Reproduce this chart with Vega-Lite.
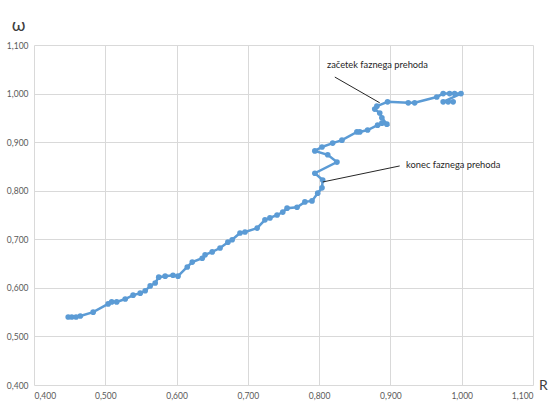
{
  "$schema": "https://vega.github.io/schema/vega-lite/v6.json",
  "width": 499,
  "height": 340,
  "autosize": {"type": "none"},
  "padding": {"left": 34, "top": 45, "right": 23, "bottom": 20},
  "background": "white",
  "config": {
    "view": {"stroke": null},
    "axis": {
      "grid": true,
      "gridColor": "#d9d9d9",
      "gridWidth": 1,
      "domain": false,
      "ticks": false,
      "labelFont": "Lato",
      "labelFontSize": 8.5,
      "labelColor": "#595959",
      "titleFont": "Lato",
      "titleFontWeight": "normal",
      "titleColor": "#404040"
    }
  },
  "datasets": {
    "series": [
      {"i": 1, "R": 0.448, "w": 0.540},
      {"i": 2, "R": 0.453, "w": 0.540},
      {"i": 3, "R": 0.459, "w": 0.540},
      {"i": 4, "R": 0.465, "w": 0.542},
      {"i": 5, "R": 0.483, "w": 0.550},
      {"i": 6, "R": 0.504, "w": 0.567},
      {"i": 7, "R": 0.509, "w": 0.571},
      {"i": 8, "R": 0.516, "w": 0.571},
      {"i": 9, "R": 0.528, "w": 0.577},
      {"i": 10, "R": 0.539, "w": 0.585},
      {"i": 11, "R": 0.549, "w": 0.589},
      {"i": 12, "R": 0.556, "w": 0.594},
      {"i": 13, "R": 0.563, "w": 0.604},
      {"i": 14, "R": 0.570, "w": 0.610},
      {"i": 15, "R": 0.575, "w": 0.622},
      {"i": 16, "R": 0.584, "w": 0.624},
      {"i": 17, "R": 0.595, "w": 0.626},
      {"i": 18, "R": 0.602, "w": 0.624},
      {"i": 19, "R": 0.615, "w": 0.643},
      {"i": 20, "R": 0.622, "w": 0.653},
      {"i": 21, "R": 0.636, "w": 0.661},
      {"i": 22, "R": 0.640, "w": 0.668},
      {"i": 23, "R": 0.650, "w": 0.674},
      {"i": 24, "R": 0.661, "w": 0.682},
      {"i": 25, "R": 0.672, "w": 0.694},
      {"i": 26, "R": 0.678, "w": 0.699},
      {"i": 27, "R": 0.689, "w": 0.713},
      {"i": 28, "R": 0.696, "w": 0.715},
      {"i": 29, "R": 0.713, "w": 0.723},
      {"i": 30, "R": 0.724, "w": 0.740},
      {"i": 31, "R": 0.731, "w": 0.744},
      {"i": 32, "R": 0.741, "w": 0.750},
      {"i": 33, "R": 0.749, "w": 0.756},
      {"i": 34, "R": 0.755, "w": 0.764},
      {"i": 35, "R": 0.769, "w": 0.766},
      {"i": 36, "R": 0.780, "w": 0.777},
      {"i": 37, "R": 0.790, "w": 0.779},
      {"i": 38, "R": 0.798, "w": 0.795},
      {"i": 39, "R": 0.804, "w": 0.806},
      {"i": 40, "R": 0.805, "w": 0.822},
      {"i": 41, "R": 0.794, "w": 0.836},
      {"i": 42, "R": 0.825, "w": 0.859},
      {"i": 43, "R": 0.812, "w": 0.874},
      {"i": 44, "R": 0.794, "w": 0.882},
      {"i": 45, "R": 0.804, "w": 0.890},
      {"i": 46, "R": 0.819, "w": 0.898},
      {"i": 47, "R": 0.832, "w": 0.904},
      {"i": 48, "R": 0.853, "w": 0.921},
      {"i": 49, "R": 0.857, "w": 0.921},
      {"i": 50, "R": 0.868, "w": 0.925},
      {"i": 51, "R": 0.882, "w": 0.935},
      {"i": 52, "R": 0.888, "w": 0.939},
      {"i": 53, "R": 0.895, "w": 0.937},
      {"i": 54, "R": 0.888, "w": 0.950},
      {"i": 55, "R": 0.885, "w": 0.960},
      {"i": 56, "R": 0.878, "w": 0.968},
      {"i": 57, "R": 0.881, "w": 0.974},
      {"i": 58, "R": 0.896, "w": 0.983},
      {"i": 59, "R": 0.925, "w": 0.981},
      {"i": 60, "R": 0.934, "w": 0.981},
      {"i": 61, "R": 0.965, "w": 0.993},
      {"i": 62, "R": 0.974, "w": 1.000},
      {"i": 63, "R": 0.983, "w": 1.000},
      {"i": 64, "R": 0.990, "w": 1.000},
      {"i": 65, "R": 0.999, "w": 1.000},
      {"i": 66, "R": 0.974, "w": 0.983},
      {"i": 67, "R": 0.981, "w": 0.983},
      {"i": 68, "R": 0.988, "w": 0.983}
    ],
    "arrows": [
      {"x1": 0.822, "y1": 1.034, "x2": 0.885, "y2": 0.981},
      {"x1": 0.913, "y1": 0.851, "x2": 0.805, "y2": 0.818}
    ],
    "labels": [
      {"x": 0.811, "y": 1.059, "t": "začetek faznega prehoda"},
      {"x": 0.922, "y": 0.853, "t": "konec faznega prehoda"}
    ]
  },
  "encoding": {},
  "layer": [
    {
      "data": {"name": "series"},
      "mark": {"type": "line", "color": "#5b9bd5", "strokeWidth": 2.5, "point": {"filled": true, "size": 32, "color": "#5b9bd5"}},
      "encoding": {
        "x": {"field": "R", "type": "quantitative", "scale": {"domain": [0.4, 1.1], "nice": false, "zero": false},
          "axis": {"values": [0.4, 0.5, 0.6, 0.7, 0.8, 0.9, 1.0, 1.1], "labelExpr": "replace(format(datum.value, '.3f'), '.', ',')", "labelPadding": 6,
            "title": "R", "titleFontSize": 14, "titleX": 509, "titleY": 0, "titleAlign": "center", "titleBaseline": "middle", "titleAngle": 0}},
        "y": {"field": "w", "type": "quantitative", "scale": {"domain": [0.4, 1.1], "nice": false, "zero": false},
          "axis": {"values": [0.4, 0.5, 0.6, 0.7, 0.8, 0.9, 1.0, 1.1], "labelExpr": "replace(format(datum.value, '.3f'), '.', ',')", "labelPadding": 6,
            "title": "ω", "titleFontSize": 18, "titleX": -16, "titleY": -20, "titleAlign": "center", "titleBaseline": "middle", "titleAngle": 0}},
        "order": {"field": "i", "type": "quantitative"}
      }
    },
    {
      "data": {"name": "arrows"},
      "mark": {"type": "rule", "color": "#262626", "strokeWidth": 1},
      "encoding": {
        "x": {"field": "x1", "type": "quantitative"},
        "y": {"field": "y1", "type": "quantitative"},
        "x2": {"field": "x2"},
        "y2": {"field": "y2"}
      }
    },
    {
      "data": {"name": "labels"},
      "mark": {"type": "text", "align": "left", "baseline": "middle", "font": "Lato", "fontSize": 9.3, "color": "#262626"},
      "encoding": {
        "x": {"field": "x", "type": "quantitative"},
        "y": {"field": "y", "type": "quantitative"},
        "text": {"field": "t"}
      }
    }
  ]
}
